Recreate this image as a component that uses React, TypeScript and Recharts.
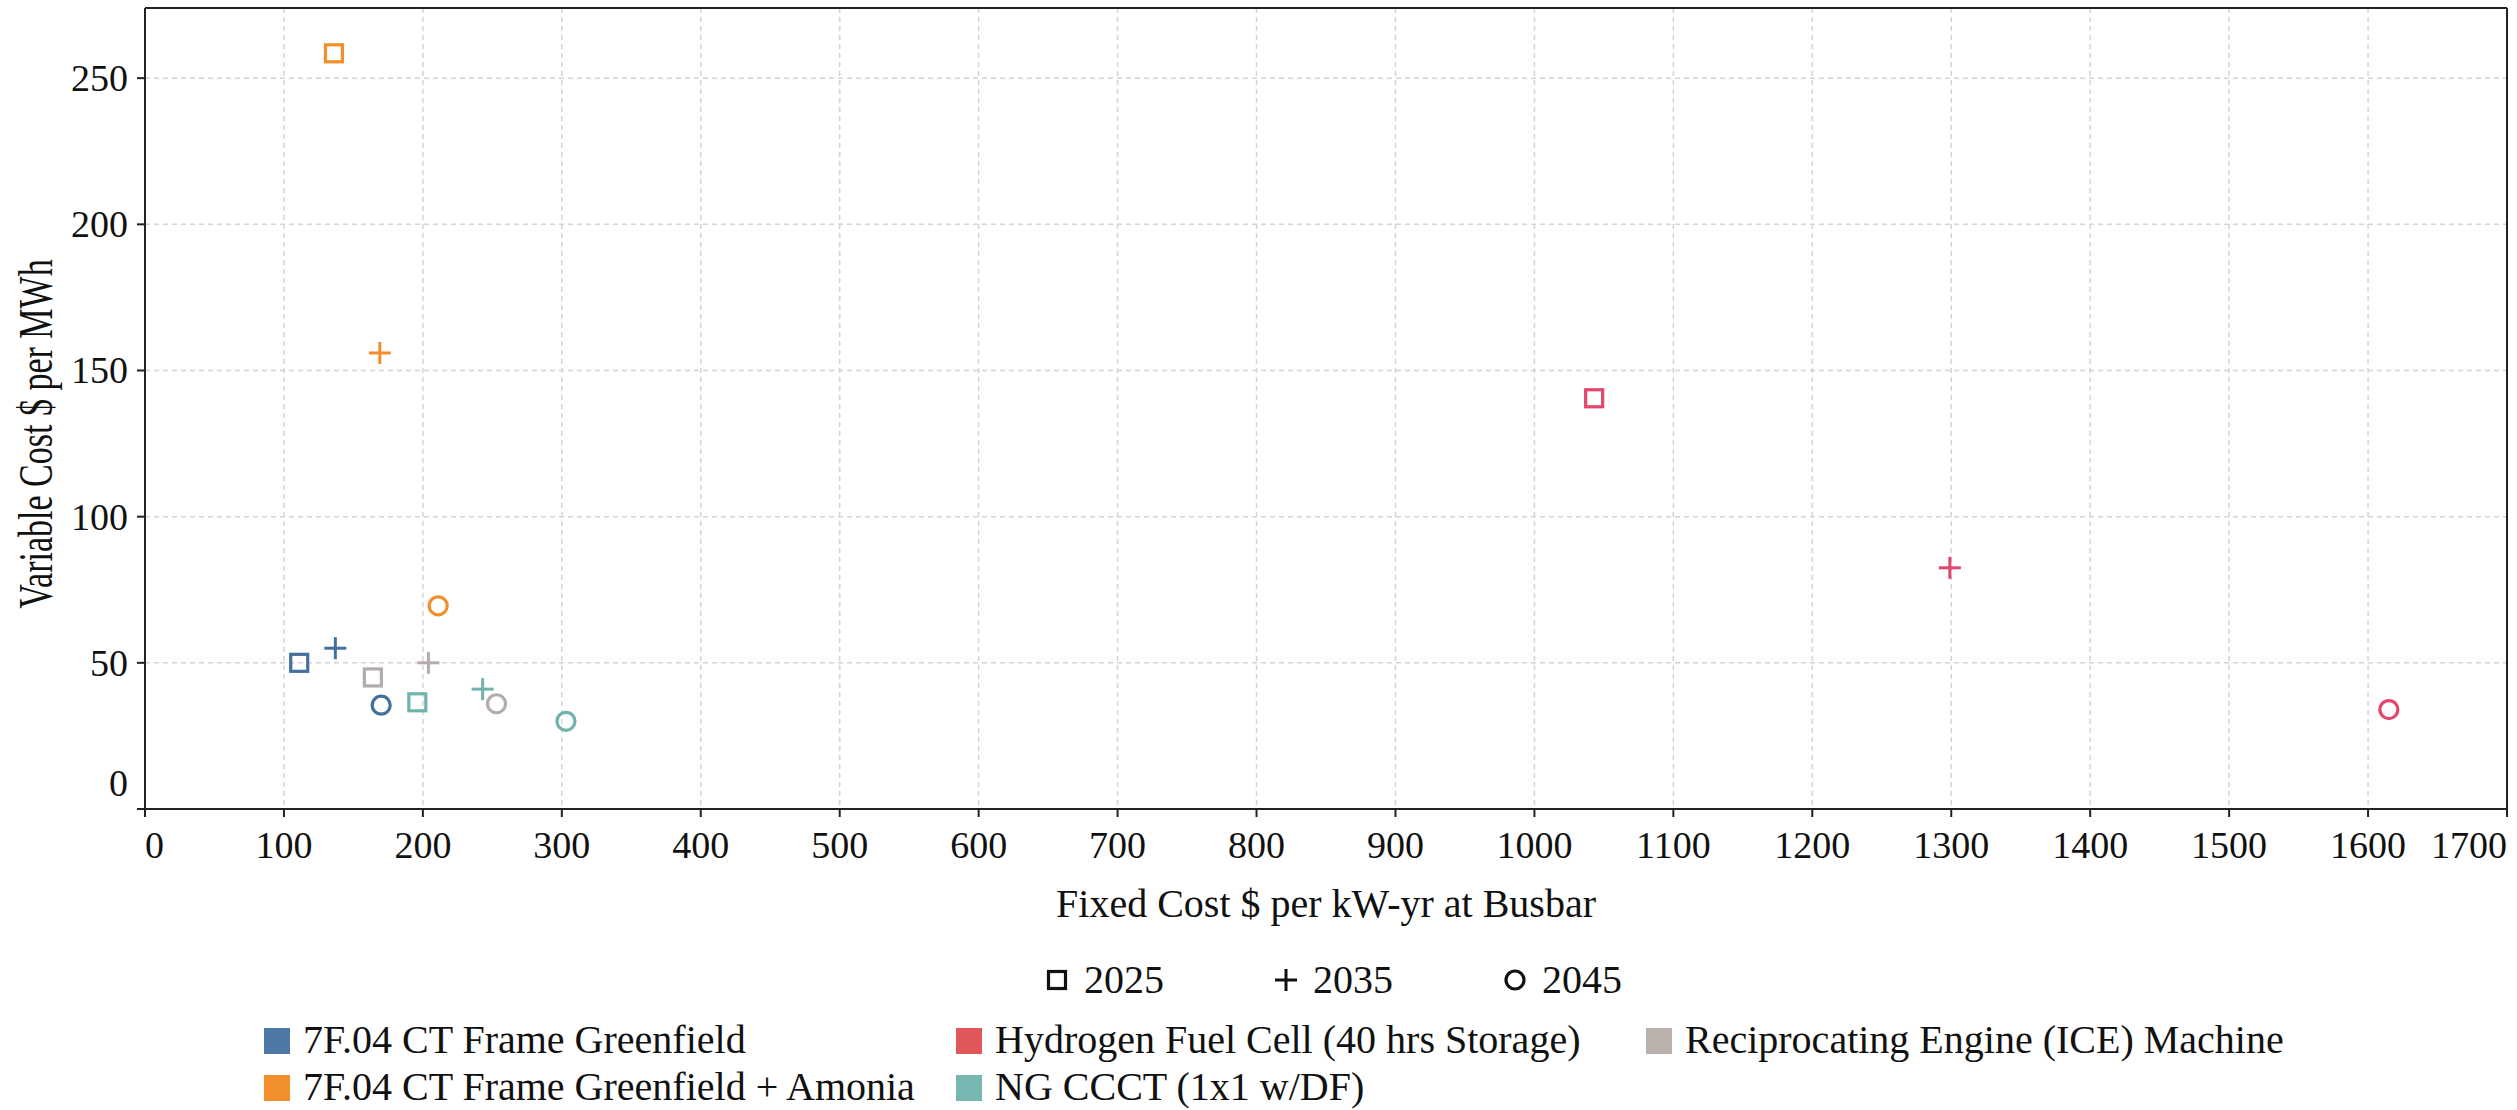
import React from 'react';
import {
  ScatterChart,
  Scatter,
  XAxis,
  YAxis,
  CartesianGrid,
  ReferenceLine,
} from 'recharts';

const years = ['2025', '2035', '2045'];

const techNames = [
  '7F.04 CT Frame Greenfield',
  '7F.04 CT Frame Greenfield + Amonia',
  'Hydrogen Fuel Cell (40 hrs Storage)',
  'Reciprocating Engine (ICE) Machine',
  'NG CCCT (1x1 w/DF)',
];

// fixed cost ($/kW-yr) and variable cost ($/MWh) for 2025, 2035, 2045
const ctFixed = [111, 137, 170];
const ctVariable = [50, 55, 35.5];
const ammoniaFixed = [136, 169, 211];
const ammoniaVariable = [258.5, 156, 69.5];
const hydrogenFixed = [1043, 1299, 1615];
const hydrogenVariable = [140.5, 82.5, 34];
const iceFixed = [164, 204, 253];
const iceVariable = [45, 50, 36];
const ccctFixed = [196, 243, 303];
const ccctVariable = [36.5, 41, 30];

const fixedTicks = [0, 100, 200, 300, 400, 500, 600, 700, 800, 900, 1000, 1100, 1200, 1300, 1400, 1500, 1600, 1700];
const variableTicks = [0, 50, 100, 150, 200, 250];

const pointColors = ['#44709f', '#f28e2b', '#e2466c', '#b3acaa', '#6fb3ac'];
const swatchColors = ['#4e79a7', '#f28e2b', '#e15759', '#bab0ac', '#76b7b2'];

// legend grid position (column, row) of each technology
const legendSlots = [
  [0, 0],
  [0, 1],
  [1, 0],
  [2, 0],
  [1, 1],
];

const FONT = '"Liberation Serif", "Times New Roman", serif';

const buildPoints = (fixed: number[], variable: number[]) =>
  years.map((year, i) => ({ fixed: fixed[i], variable: variable[i], year }));

const series = [
  buildPoints(ctFixed, ctVariable),
  buildPoints(ammoniaFixed, ammoniaVariable),
  buildPoints(hydrogenFixed, hydrogenVariable),
  buildPoints(iceFixed, iceVariable),
  buildPoints(ccctFixed, ccctVariable),
];

const YearSymbol = ({ year, cx, cy, color }: any) => {
  if (year === '2025') {
    return (
      <rect x={cx - 8.5} y={cy - 8.5} width={17} height={17} fill="none" stroke={color} strokeWidth={3.2} />
    );
  }
  if (year === '2035') {
    return (
      <g stroke={color} strokeWidth={3}>
        <line x1={cx - 11} x2={cx + 11} y1={cy} y2={cy} />
        <line x1={cx} x2={cx} y1={cy - 11} y2={cy + 11} />
      </g>
    );
  }
  return <circle cx={cx} cy={cy} r={9} fill="none" stroke={color} strokeWidth={3.2} />;
};

const makeShape = (color: string) => (props: any) => {
  if (props.cx == null || props.cy == null) return <g />;
  return <YearSymbol year={props.payload.year} cx={props.cx} cy={props.cy} color={color} />;
};

const XTick = ({ x, y, payload }: any) => {
  const v = payload.value;
  const anchor = v === 0 ? 'start' : v === 1700 ? 'end' : 'middle';
  return (
    <text x={x} y={y + 41} textAnchor={anchor} fontFamily={FONT} fontSize={38} fill="#111">
      {v}
    </text>
  );
};

const YTick = ({ x, y, payload }: any) => {
  const v = payload.value;
  const shift = v === 0 ? -26 : 0;
  return (
    <text x={x} y={y + shift + 13} textAnchor="end" fontFamily={FONT} fontSize={38} fill="#111">
      {v}
    </text>
  );
};

const XTitle = ({ viewBox }: any) => {
  const cx = viewBox.x + viewBox.width / 2;
  return (
    <text x={cx} y={viewBox.y + 108} textAnchor="middle" fontFamily={FONT} fontSize={40} fill="#111">
      Fixed Cost $ per kW-yr at Busbar
    </text>
  );
};

const YTitle = () => (
  <text
    transform="translate(52, 434) scale(1.4, 1) rotate(-90)"
    textAnchor="middle"
    fontFamily={FONT}
    fontSize={34}
    fill="#111"
  >
    Variable Cost $ per MWh
  </text>
);

const legendCols = [264, 956, 1646];
const legendRows = [1041, 1088];

const LegendOverlay = () => {
  const yearX = [1057, 1286, 1515];
  return (
    <svg
      width={2517}
      height={180}
      style={{ position: 'absolute', left: 0, top: 930 }}
      fontFamily={FONT}
    >
      <g transform="translate(0,-930)">
        {years.map((yr, i) => (
          <g key={yr}>
            <YearSymbol year={yr} cx={yearX[i]} cy={980} color="#111" />
            <text x={yearX[i] + 27} y={993} fontSize={40} fill="#111">
              {yr}
            </text>
          </g>
        ))}
        {techNames.map((name, i) => {
          const [col, row] = legendSlots[i];
          const cy = legendRows[row];
          const x = legendCols[col];
          return (
            <g key={name}>
              <rect x={x} y={cy - 13} width={26} height={26} fill={swatchColors[i]} />
              <text x={x + 39} y={cy + 12} fontSize={40} fill="#111">
                {name}
              </text>
            </g>
          );
        })}
      </g>
    </svg>
  );
};

export default function App() {
  return (
    <div style={{ position: 'absolute', left: 0, top: 0, width: 2517, height: 1110, background: '#fff' }}>
      <ScatterChart width={2517} height={1110} margin={{ top: 8, right: 10, bottom: 0, left: 0 }}>
        <CartesianGrid stroke="#d4d4d4" strokeDasharray="5 4" strokeWidth={1.5} />
        <XAxis
          type="number"
          dataKey="fixed"
          domain={[0, 1700]}
          ticks={fixedTicks}
          interval={0}
          height={301}
          tickSize={8}
          tickMargin={0}
          stroke="#222"
          strokeWidth={2}
          tick={<XTick />}
          label={<XTitle />}
        />
        <YAxis
          type="number"
          dataKey="variable"
          domain={[0, 274]}
          ticks={variableTicks}
          interval={0}
          width={145}
          tickSize={8}
          tickMargin={9}
          stroke="#222"
          strokeWidth={2}
          tick={<YTick />}
          label={<YTitle />}
        />
        <ReferenceLine y={274} stroke="#222" strokeWidth={2} />
        <ReferenceLine x={1700} stroke="#222" strokeWidth={2} />
        {series.map((data, i) => (
          <Scatter
            key={techNames[i]}
            name={techNames[i]}
            data={data}
            fill={pointColors[i]}
            shape={makeShape(pointColors[i])}
            isAnimationActive={false}
          />
        ))}
      </ScatterChart>
      <LegendOverlay />
    </div>
  );
}
